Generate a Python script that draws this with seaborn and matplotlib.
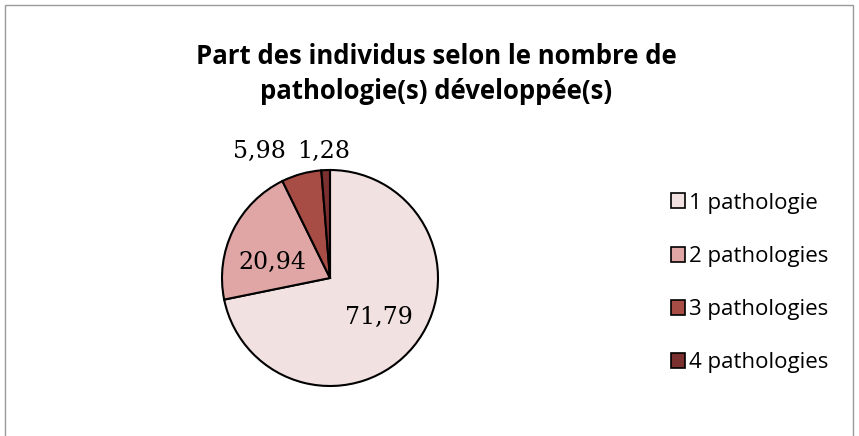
import matplotlib
matplotlib.use("Agg")
import matplotlib.pyplot as plt
import seaborn as sns
from matplotlib.patches import Rectangle, Patch

# Données
categories = ["1 pathologie", "2 pathologies", "3 pathologies", "4 pathologies"]
valeurs = [71.79, 20.94, 5.98, 1.28]
etiquettes = [f"{v:.2f}".replace(".", ",") for v in valeurs]
couleurs = ["#F2E1E1", "#E0A6A6", "#A84C46", "#7A302E"]
titre = "Part des individus selon le nombre de\npathologie(s) développée(s)"

sns.set_theme(style="white")
plt.rcParams["font.family"] = ["Open Sans", "DejaVu Sans"]
plt.rcParams["text.color"] = "black"

W, H = 859, 436
fig = plt.figure(figsize=(W / 100, H / 100), dpi=100)

# cadre du graphique
fig.patches.append(Rectangle((5 / W, -0.01), (W - 11) / W, (H - 5) / H + 0.01,
                             transform=fig.transFigure, fill=False,
                             edgecolor="#9a9a9a", linewidth=1))

# axe du camembert : centre (330, 278), rayon 108 px
cx, cy, r = 330, 278, 108
lim = 1.25
ax = fig.add_axes([(cx - r * lim) / W, (H - cy - r * lim) / H, 2 * r * lim / W, 2 * r * lim / H])

it = iter(etiquettes)
wedges, texts, autotexts = ax.pie(
    valeurs, colors=couleurs, startangle=90, counterclock=False,
    autopct=lambda p: next(it), pctdistance=0.58,
    wedgeprops=dict(edgecolor="black", linewidth=1.5),
    textprops=dict(family="DejaVu Serif", fontsize=17, color="black"),
)
ax.set_xlim(-lim, lim)
ax.set_ylim(-lim, lim)

# ajustement des étiquettes (comme Excel)
autotexts[1].set_position((-0.53, 0.14))
autotexts[2].set_position((-0.65, 1.17))
autotexts[3].set_position((-0.055, 1.17))

fig.text(0.508, 1 - 43 / H, titre, ha="center", va="top", fontsize=18.5,
         fontweight="bold", linespacing=1.4)

handles = [Patch(facecolor=c, edgecolor="black", linewidth=1.2) for c in couleurs]
fig.legend(handles, categories, loc="center left", bbox_to_anchor=(651 / W, 1 - 283 / H),
           frameon=False, fontsize=16, handlelength=0.65, handleheight=0.65,
           handletextpad=0.15, labelspacing=1.45)

fig.savefig("out.png", dpi=100)
